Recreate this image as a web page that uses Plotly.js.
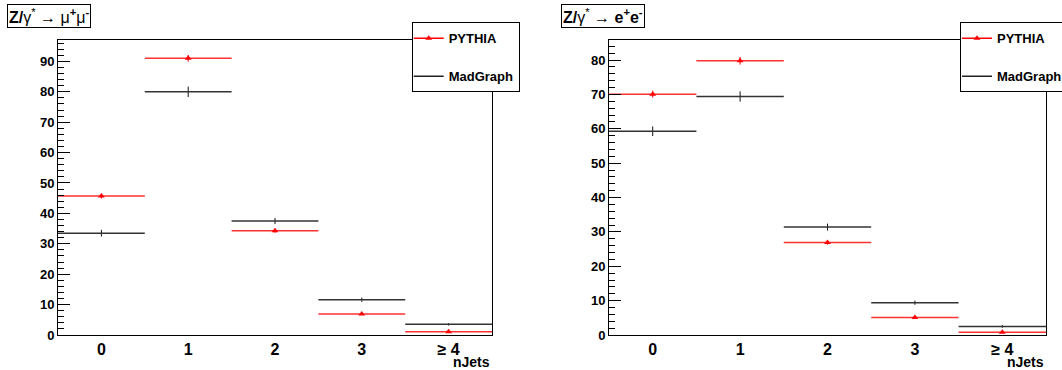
<!DOCTYPE html>
<html><head><meta charset="utf-8">
<script src="https://cdn.plot.ly/plotly-3.0.1.min.js"></script>
<style>html,body{margin:0;padding:0;background:#fff}#chart{width:1062px;height:370px}</style>
</head><body><div id="chart"></div>
<script>
// ---- data ----
const categories = ["0", "1", "2", "3", "≥ 4"];
const seriesNames = ["PYTHIA", "MadGraph"];

const muPythia      = [45.7, 91.0, 34.3, 6.9, 1.1];
const muPythiaErr   = [0.8, 1.1, 0.7, 0.3, 0.15];
const muMadGraph    = [33.5, 80.0, 37.5, 11.6, 3.5];
const muMadGraphErr = [1.1, 1.7, 1.0, 0.7, 0.4];

const eePythia      = [70.1, 79.8, 26.9, 5.1, 0.8];
const eePythiaErr   = [1.0, 1.1, 0.6, 0.3, 0.1];
const eeMadGraph    = [59.3, 69.4, 31.4, 9.4, 2.5];
const eeMadGraphErr = [1.4, 1.5, 1.0, 0.6, 0.4];

const panelTitles = [
  "<b>Z/</b>γ<sup>*</sup> → μ<sup><b>+</b></sup>μ<sup><b>-</b></sup>",
  "<b>Z/</b>γ<sup>*</sup> → <b>e</b><sup><b>+</b></sup><b>e</b><sup><b>-</b></sup>"
];
const xAxisLabel = "nJets";

// ---- helpers ----
const FONT = "Liberation Sans, Arial, Helvetica, sans-serif";
const W = 1062, H = 370;
const idx = categories.map((c, i) => i);
const binEdges = idx.slice(1).map(i => i - 0.5);
function gapped(arr) { const out = []; arr.forEach(v => { out.push(v); out.push(null); }); return out; }

function pythiaTrace(vals, errs, xa, ya, leg) {
  return {
    type: "scatter", mode: "lines+markers", name: seriesNames[0],
    x: gapped(idx), y: gapped(vals), xaxis: xa, yaxis: ya, connectgaps: false,
    line: {color: "#ff0000", width: 1.5},
    marker: {symbol: "triangle-up", size: 6, color: "#ff0000"},
    error_x: {type: "constant", value: 0.5, width: 0, thickness: 1.5, color: "#ff3030"},
    error_y: {type: "data", array: gapped(errs), width: 0, thickness: 1, color: "#ff0000"},
    legend: leg, legendgroup: leg + "a", hoverinfo: "skip"
  };
}
function madTrace(vals, errs, xa, ya, leg) {
  return {
    type: "scatter", mode: "lines", name: seriesNames[1],
    x: gapped(idx), y: gapped(vals), xaxis: xa, yaxis: ya, connectgaps: false,
    line: {color: "#222", width: 1.5},
    error_x: {type: "constant", value: 0.5, width: 0, thickness: 1.5, color: "#333"},
    error_y: {type: "data", array: gapped(errs), width: 0, thickness: 1, color: "#111"},
    legend: leg, legendgroup: leg + "b", hoverinfo: "skip"
  };
}

const data = [
  pythiaTrace(muPythia, muPythiaErr, "x", "y", "legend"),
  madTrace(muMadGraph, muMadGraphErr, "x", "y", "legend"),
  pythiaTrace(eePythia, eePythiaErr, "x2", "y2", "legend2"),
  madTrace(eeMadGraph, eeMadGraphErr, "x2", "y2", "legend2")
];

const yTop = 1 - 39.5 / H, yBot = 1 - 335 / H;

function xAxis(domain, anchor) {
  return {
    domain: domain, anchor: anchor, range: [-0.5, 4.5],
    tickmode: "array", tickvals: idx, ticktext: categories, ticks: "",
    tickfont: {family: FONT, size: 16, weight: "bold", color: "#000"},
    showline: true, linecolor: "#000", linewidth: 1, mirror: true,
    showgrid: false, zeroline: false, fixedrange: true, ticklabelstandoff: 0
  };
}
function edgeAxis(over, anchor) {
  return {
    overlaying: over, anchor: anchor, side: "bottom", range: [-0.5, 4.5],
    tickmode: "array", tickvals: binEdges, ticks: "inside", ticklen: 8,
    tickcolor: "#333", tickwidth: 1, showticklabels: false,
    showline: false, showgrid: false, zeroline: false, fixedrange: true
  };
}
function yAxis(anchor, top) {
  return {
    domain: [yBot, yTop], anchor: anchor, range: [0, top],
    tickmode: "linear", tick0: 0, dtick: 10, ticks: "inside", ticklen: 12,
    tickcolor: "#000", tickwidth: 1,
    minor: {ticks: "inside", ticklen: 6, dtick: 2, tick0: 0, tickcolor: "#000", tickwidth: 1},
    tickfont: {family: FONT, size: 13, weight: "bold", color: "#000"},
    showline: true, linecolor: "#000", linewidth: 1, mirror: true,
    showgrid: false, zeroline: false, fixedrange: true
  };
}
function legendBox(xpx) {
  return {
    x: xpx / W, y: 1 - 22.3 / H, xanchor: "left", yanchor: "top",
    xref: "paper", yref: "paper",
    bgcolor: "#fff", bordercolor: "#000", borderwidth: 1,
    font: {family: FONT, size: 13, weight: "bold", color: "#000"},
    traceorder: "grouped", tracegroupgap: 18, itemclick: false, indentation: -4
  };
}
function titleBox(text, xpx) {
  return {
    text: text, xref: "paper", yref: "paper", x: xpx / W, y: 1 - 4 / H,
    xanchor: "left", yanchor: "top", showarrow: false,
    bordercolor: "#000", borderwidth: 1, borderpad: 1, bgcolor: "#fff",
    font: {family: FONT, size: 16, color: "#000"}
  };
}
function axisLabel(xref) {
  return {
    text: "<b>" + xAxisLabel + "</b>", xref: xref, yref: "paper", x: 1, y: 1 - 361.5 / H,
    xanchor: "right", yanchor: "middle", showarrow: false,
    font: {family: FONT, size: 14, color: "#000"}
  };
}

const layout = {
  width: W, height: H,
  margin: {l: 0, r: 0, t: 0, b: 0, autoexpand: false},
  paper_bgcolor: "#fff", plot_bgcolor: "#fff",
  font: {family: FONT, color: "#000"},
  xaxis: xAxis([58 / W, 492 / W], "y"),
  yaxis: yAxis("x", 97.2),
  xaxis2: xAxis([609 / W, 1046 / W], "y2"),
  yaxis2: yAxis("x2", 86.0),
  xaxis3: edgeAxis("x", "y"),
  xaxis4: edgeAxis("x2", "y2"),
  legend: legendBox(411.7),
  legend2: legendBox(960),
  annotations: [
    titleBox(panelTitles[0], 7),
    titleBox(panelTitles[1], 561),
    axisLabel("x domain"),
    axisLabel("x2 domain")
  ],
  showlegend: true
};

Plotly.newPlot("chart", data, layout, {staticPlot: true, displayModeBar: false});
</script>
</body></html>
